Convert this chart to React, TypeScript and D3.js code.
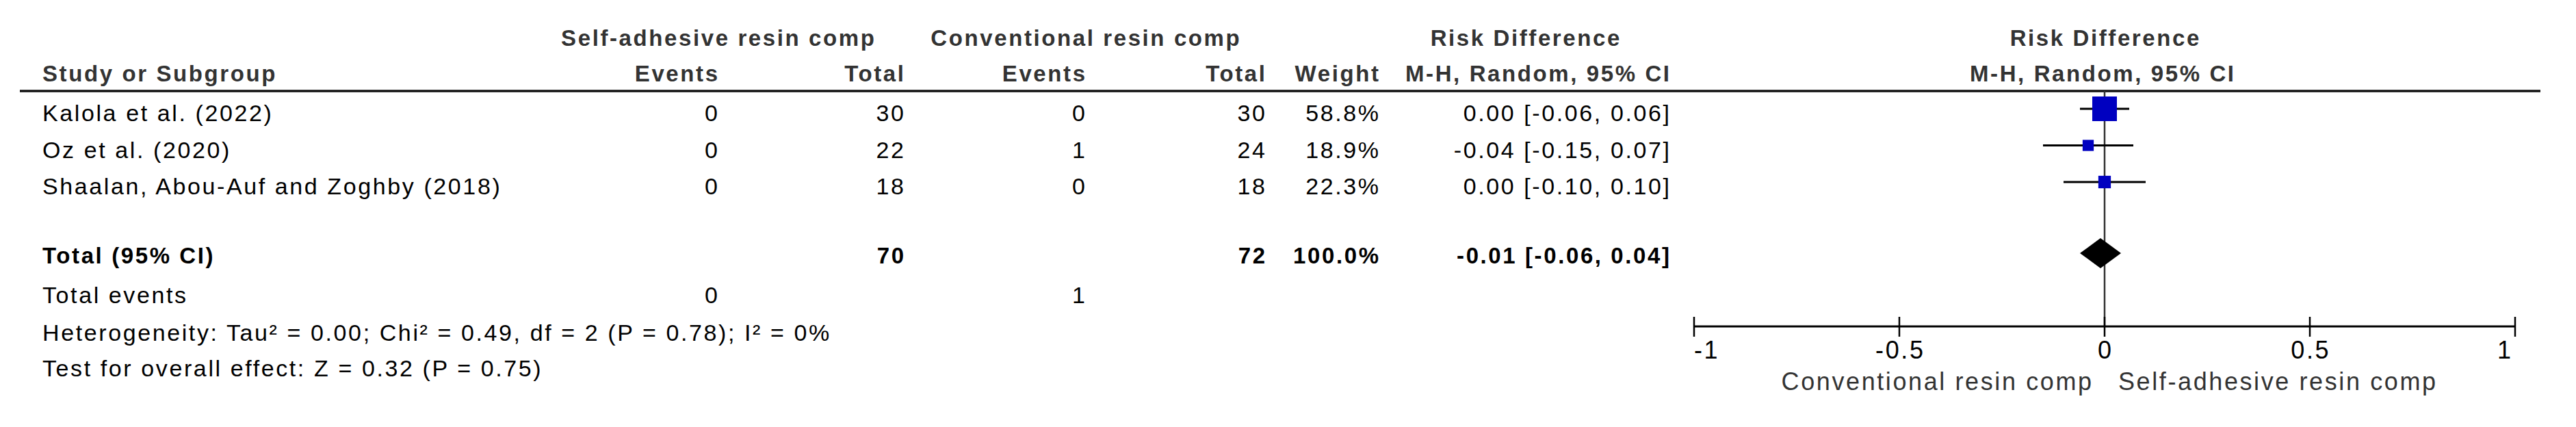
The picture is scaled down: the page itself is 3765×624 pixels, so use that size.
import React from "react";
import * as d3 from "d3";

// ---------- data ----------
const studies = ["Kalola et al. (2022)", "Oz et al. (2020)", "Shaalan, Abou-Auf and Zoghby (2018)"];
const selfEvents = [0, 0, 0];
const selfTotal = [30, 22, 18];
const convEvents = [0, 1, 0];
const convTotal = [30, 24, 18];
const weights = [58.8, 18.9, 22.3];
const riskDiff = [0.0, -0.04, 0.0];
const ciLower = [-0.06, -0.15, -0.1];
const ciUpper = [0.06, 0.07, 0.1];

const totalSelf = 70;
const totalConv = 72;
const totalWeight = 100.0;
const totalRD = -0.01;
const totalLower = -0.06;
const totalUpper = 0.04;
const totalEventsSelf = 0;
const totalEventsConv = 1;

const axisTicks = [-1, -0.5, 0, 0.5, 1];
const axisTickLabels = ["-1", "-0.5", "0", "0.5", "1"];
const groupLabels = ["Self-adhesive resin comp", "Conventional resin comp"];
const heterogeneityText = "Heterogeneity: Tau\u00b2 = 0.00; Chi\u00b2 = 0.49, df = 2 (P = 0.78); I\u00b2 = 0%";
const overallEffectText = "Test for overall effect: Z = 0.32 (P = 0.75)";

// ---------- layout ----------
const W = 3765;
const H = 624;
const FONT = "'Liberation Sans', Arial, sans-serif";
const FS = 34;
const FSB = 33;
const LS = 2.6;
const AXFS = 36;

const colLeft = 62;
const colEv1 = 1049;
const colTot1 = 1321;
const colEv2 = 1586;
const colTot2 = 1849;
const colWeight = 2015;
const colCI = 2440;

const headerY1 = 67;
const headerY2 = 119;
const ruleY = 133;
const firstRowY = 177;
const rowStep = 53.5;
const totalY = 385;
const totalEventsY = 443;
const hetY = 498;
const testY = 550;
const axisY = 477;

const fmt = (v: number) => v.toFixed(2);
const ciText = (m: number, l: number, u: number) => `${fmt(m)} [${fmt(l)}, ${fmt(u)}]`;

export default function App() {
  const x = d3.scaleLinear().domain([-1, 1]).range([2476, 3676]);
  const rowY = d3.scaleLinear().domain([0, 1]).range([firstRowY, firstRowY + rowStep]);
  const boxSize = d3.scalePow().exponent(0.7).domain([0, 100]).range([0, 52.2]);

  const T = (props: any) => {
    const { anchor = "start", bold = false, fill = "#000", size, children, ...rest } = props;
    const fs = size ?? (bold ? FSB : FS);
    const dx = anchor === "end" ? LS : anchor === "middle" ? LS / 2 : 0;
    return (
      <text
        {...rest}
        dx={dx}
        textAnchor={anchor}
        fontFamily={FONT}
        fontSize={fs}
        fontWeight={bold ? "bold" : "normal"}
        fill={fill}
        style={{ letterSpacing: `${LS}px` }}
      >
        {children}
      </text>
    );
  };

  const hdr = "#333";
  const diamond = d3.line()([
    [x(totalLower), totalY - 15],
    [x(totalRD), totalY - 37],
    [x(totalUpper), totalY - 15],
    [x(totalRD), totalY + 7],
  ]) + "Z";

  return (
    <div style={{ position: "absolute", left: 0, top: 0 }}>
      <svg width={W} height={H} viewBox={`0 0 ${W} ${H}`} style={{ display: "block", background: "#fff" }}>
        <rect x={0} y={0} width={W} height={H} fill="#fff" />
        {/* headers */}
        <T x={colEv1} y={headerY1} anchor="middle" bold fill={hdr}>{groupLabels[0]}</T>
        <T x={colEv2} y={headerY1} anchor="middle" bold fill={hdr}>{groupLabels[1]}</T>
        <T x={2229} y={headerY1} anchor="middle" bold fill={hdr}>Risk Difference</T>
        <T x={x(0)} y={headerY1} anchor="middle" bold fill={hdr}>Risk Difference</T>

        <T x={colLeft} y={headerY2} bold fill={hdr}>Study or Subgroup</T>
        <T x={colEv1} y={headerY2} anchor="end" bold fill={hdr}>Events</T>
        <T x={colTot1} y={headerY2} anchor="end" bold fill={hdr}>Total</T>
        <T x={colEv2} y={headerY2} anchor="end" bold fill={hdr}>Events</T>
        <T x={colTot2} y={headerY2} anchor="end" bold fill={hdr}>Total</T>
        <T x={colWeight} y={headerY2} anchor="end" bold fill={hdr}>Weight</T>
        <T x={colCI} y={headerY2} anchor="end" bold fill={hdr}>M-H, Random, 95% CI</T>
        <T x={x(0) - 4} y={headerY2} anchor="middle" bold fill={hdr}>M-H, Random, 95% CI</T>

        <line x1={29} x2={3713} y1={ruleY} y2={ruleY} stroke="#111" strokeWidth={3.5} />

        {/* zero line */}
        <line x1={x(0)} x2={x(0)} y1={ruleY} y2={axisY} stroke="#333" strokeWidth={2.5} />

        {/* study rows */}
        {studies.map((s, i) => {
          const y = rowY(i);
          const cy = y - 18;
          const sz = boxSize(weights[i]);
          return (
            <g key={s}>
              <T x={colLeft} y={y}>{s}</T>
              <T x={colEv1} y={y} anchor="end">{selfEvents[i]}</T>
              <T x={colTot1} y={y} anchor="end">{selfTotal[i]}</T>
              <T x={colEv2} y={y} anchor="end">{convEvents[i]}</T>
              <T x={colTot2} y={y} anchor="end">{convTotal[i]}</T>
              <T x={colWeight} y={y} anchor="end">{weights[i].toFixed(1)}%</T>
              <T x={colCI} y={y} anchor="end">{ciText(riskDiff[i], ciLower[i], ciUpper[i])}</T>
              <line x1={x(ciLower[i])} x2={x(ciUpper[i])} y1={cy} y2={cy} stroke="#000" strokeWidth={3} />
              <rect x={x(riskDiff[i]) - sz / 2} y={cy - sz / 2} width={sz} height={sz} fill="#0000c0" />
            </g>
          );
        })}

        {/* total row */}
        <T x={colLeft} y={totalY} bold>Total (95% CI)</T>
        <T x={colTot1} y={totalY} anchor="end" bold>{totalSelf}</T>
        <T x={colTot2} y={totalY} anchor="end" bold>{totalConv}</T>
        <T x={colWeight} y={totalY} anchor="end" bold>{totalWeight.toFixed(1)}%</T>
        <T x={colCI} y={totalY} anchor="end" bold>{ciText(totalRD, totalLower, totalUpper)}</T>
        <path d={diamond} fill="#000" />

        <T x={colLeft} y={totalEventsY}>Total events</T>
        <T x={colEv1} y={totalEventsY} anchor="end">{totalEventsSelf}</T>
        <T x={colEv2} y={totalEventsY} anchor="end">{totalEventsConv}</T>
        <T x={colLeft} y={hetY}>{heterogeneityText}</T>
        <T x={colLeft} y={testY}>{overallEffectText}</T>

        {/* axis */}
        <line x1={x(-1)} x2={x(1)} y1={axisY} y2={axisY} stroke="#000" strokeWidth={3} />
        {axisTicks.map((t, i) => (
          <g key={t}>
            <line x1={x(t)} x2={x(t)} y1={axisY - 14} y2={axisY + 15} stroke="#000" strokeWidth={2.5} />
            <T
              x={i === 0 ? x(t) : i === axisTicks.length - 1 ? x(t) - 6 : x(t)}
              y={524}
              size={AXFS}
              anchor={i === 0 ? "start" : i === axisTicks.length - 1 ? "end" : "middle"}
            >
              {axisTickLabels[i]}
            </T>
          </g>
        ))}
        <T x={x(0) - 19} y={570} size={AXFS} anchor="end" fill="#333">{groupLabels[1]}</T>
        <T x={x(0) + 20} y={570} size={AXFS} anchor="start" fill="#333">{groupLabels[0]}</T>
      </svg>
    </div>
  );
}
